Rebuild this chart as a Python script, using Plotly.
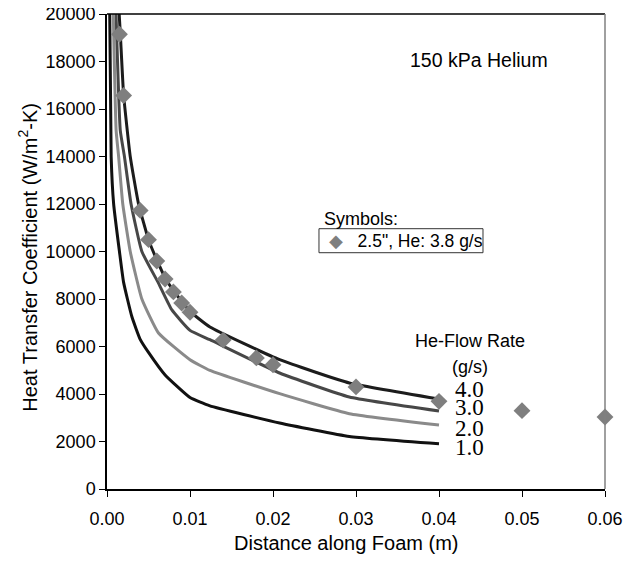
import plotly.graph_objects as go

# ---- data ----
marker_x = [0.0015, 0.002, 0.004, 0.005, 0.006, 0.007, 0.008, 0.009, 0.010,
            0.014, 0.018, 0.020, 0.030, 0.040, 0.050, 0.060]
marker_y = [19150, 16570, 11730, 10500, 9600, 8840, 8300, 7830, 7440,
            6270, 5520, 5230, 4300, 3690, 3300, 3030]

flow_rates = ["4.0", "3.0", "2.0", "1.0"]

curve_40_x = [0.0013, 0.0016, 0.002, 0.0028, 0.0038, 0.005, 0.006, 0.007, 0.008, 0.010,
              0.0124, 0.0208, 0.0292, 0.040]
curve_40_y = [21000, 19200, 16600, 14000, 12000, 10500, 9650, 8900, 8350, 7480,
              6821, 5444, 4463, 3789]

curve_30_x = [0.0010, 0.0016, 0.0021, 0.0029, 0.0042, 0.0062, 0.0078, 0.010,
              0.0124, 0.0208, 0.0292, 0.040]
curve_30_y = [21000, 15100, 14000, 12000, 10000, 8670, 7550, 6680,
              6286, 4884, 3874, 3284]

curve_20_x = [0.0007, 0.0011, 0.0014, 0.0019, 0.0028, 0.0042, 0.0062, 0.010,
              0.0124, 0.0208, 0.0292, 0.040]
curve_20_y = [21000, 15100, 14000, 12000, 10000, 8000, 6570, 5444,
              4994, 4013, 3171, 2695]

curve_10_x = [0.0003, 0.0005, 0.0008, 0.0015, 0.002, 0.003, 0.004, 0.005, 0.007, 0.010,
              0.0124, 0.0208, 0.0292, 0.040]
curve_10_y = [21000, 14000, 12000, 10000, 8700, 7250, 6300, 5750, 4800, 3850,
              3500, 2780, 2215, 1907]

label_x = 0.0437
label_y = [4210, 3437, 2539, 1752]

x_ticks = [0.0, 0.01, 0.02, 0.03, 0.04, 0.05, 0.06]
y_ticks = [0, 2000, 4000, 6000, 8000, 10000, 12000, 14000, 16000, 18000, 20000]

curves = [
    (curve_40_x, curve_40_y, "#1c1c1c"),
    (curve_30_x, curve_30_y, "#474747"),
    (curve_20_x, curve_20_y, "#8a8a8a"),
    (curve_10_x, curve_10_y, "#111111"),
]

fig = go.Figure()
for cx, cy, col in curves:
    fig.add_trace(go.Scatter(x=cx, y=cy, mode="lines",
                             line=dict(color=col, width=3, shape="spline", smoothing=0.4),
                             showlegend=False, hoverinfo="skip"))

fig.add_trace(go.Scatter(x=marker_x, y=marker_y, mode="markers", name='2.5", He: 3.8 g/s',
                         marker=dict(symbol="diamond", size=13, color="#7f7f7f"),
                         cliponaxis=False, showlegend=False))

font_sans = "Liberation Sans, Arial, sans-serif"
font_serif = "Liberation Serif, Times New Roman, serif"

for txt, ly in zip(flow_rates, label_y):
    fig.add_annotation(x=label_x, y=ly, text=txt, showarrow=False,
                       font=dict(family=font_serif, size=23, color="black"))

fig.add_annotation(x=label_x, y=6215, text="He-Flow Rate", showarrow=False,
                   font=dict(family=font_sans, size=18, color="black"))
fig.add_annotation(x=label_x, y=5137, text="(g/s)", showarrow=False,
                   font=dict(family=font_sans, size=18, color="black"))
fig.add_annotation(x=0.04482, y=18076, text="150 kPa Helium", showarrow=False,
                   font=dict(family=font_sans, size=19.5, color="black"))
fig.add_annotation(x=0.02587, y=11381, text="Symbols:", showarrow=False, xanchor="left",
                   font=dict(family=font_sans, size=18, color="black"))
# legend box
fig.add_shape(type="rect", x0=0.02554, x1=0.0453, y0=9949, y1=10960,
              line=dict(color="#333333", width=1), fillcolor="white", layer="above")
fig.add_annotation(x=0.02651, y=10455, xanchor="left", yanchor="middle", showarrow=False,
                   text='<span style="color:#7f7f7f">\u25c6</span>\u00a0\u00a0 2.5", He: 3.8 g/s',
                   font=dict(family=font_sans, size=17.5, color="black"))

# axis titles
fig.add_annotation(xref="paper", yref="paper", x=-0.1586, y=0.487, textangle=-90,
                   xanchor="center", yanchor="middle",
                   text="Heat Transfer Coefficient (W/m<sup>2</sup>-K)", showarrow=False,
                   font=dict(family=font_sans, size=20, color="black"))
fig.add_annotation(xref="paper", yref="paper", x=0.481, y=-0.113,
                   xanchor="center", yanchor="middle",
                   text="Distance along Foam (m)", showarrow=False,
                   font=dict(family=font_sans, size=20, color="black"))

# frame: top black, right gray
fig.add_shape(type="line", xref="paper", yref="paper", x0=0, x1=1, y0=1, y1=1,
              line=dict(color="black", width=1.5))
fig.add_shape(type="line", xref="paper", yref="paper", x0=1, x1=1, y0=0, y1=1,
              line=dict(color="#808080", width=1.5))

fig.update_layout(
    width=626, height=553,
    margin=dict(l=99, r=29, t=6, b=72),
    paper_bgcolor="white", plot_bgcolor="white",
    font=dict(family=font_sans, size=18, color="black"),
    showlegend=False,
    xaxis=dict(range=[0, 0.06], tickvals=x_ticks, ticktext=[f"{v:.2f}" for v in x_ticks],
               automargin=False, showgrid=False, zeroline=False, showline=True,
               linecolor="black", linewidth=2, ticks="outside", ticklen=6, tickcolor="black",
               ticklabelstandoff=6, ticklabeloverflow="allow", tickfont=dict(size=18)),
    yaxis=dict(range=[0, 20000], tickvals=y_ticks, ticktext=[str(v) for v in y_ticks],
               automargin=False, showgrid=False, zeroline=False, showline=True,
               linecolor="black", linewidth=1.5, ticks="outside", ticklen=6, tickcolor="black",
               ticklabeloverflow="allow", tickfont=dict(size=18)),
)

fig.write_html("out.html")
